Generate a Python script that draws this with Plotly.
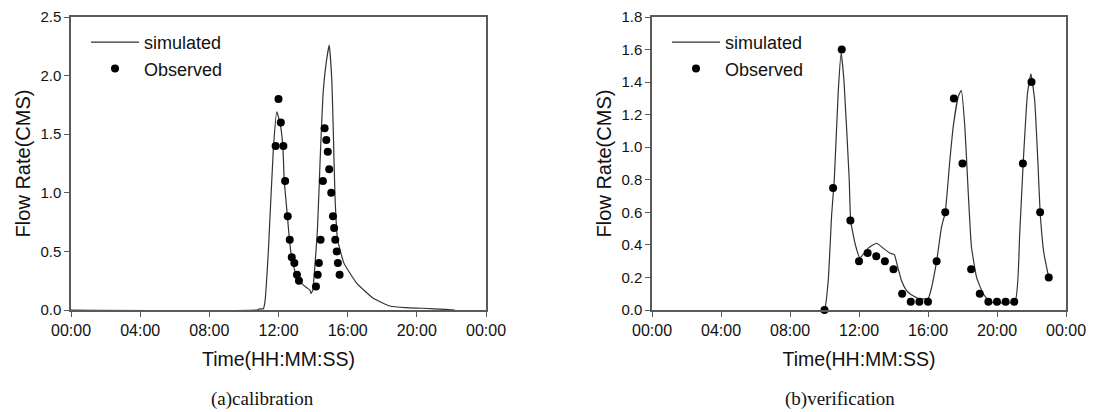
import plotly.graph_objects as go

DAY = "2000-01-01 "

# ---- (a) calibration ----
cal_sim_time = ["00:00", "10:45", "10:55", "11:07", "11:13", "11:25", "11:42", "11:54", "12:05",
                "12:15", "12:20", "12:31", "12:38", "12:46", "13:03", "13:14", "13:38", "13:49",
                "13:53", "13:59", "14:07", "14:15", "14:24", "14:34", "14:45", "14:56", "15:05",
                "15:10", "15:16", "15:25", "15:47", "16:31", "17:29", "18:27", "19:20", "20:22",
                "21:38", "22:12"]
cal_sim_flow = [0.0, 0.0, 0.01, 0.01, 0.07, 0.51, 1.37, 1.69, 1.60,
                1.40, 1.10, 0.80, 0.60, 0.44, 0.28, 0.24, 0.19, 0.17,
                0.14, 0.17, 0.40, 0.68, 1.25, 1.82, 2.10, 2.26, 1.96,
                1.54, 0.97, 0.60, 0.40, 0.23, 0.10, 0.034, 0.02, 0.015,
                0.005, 0.0]

cal_obs_time = ["11:50", "12:00", "12:08", "12:17", "12:23", "12:32", "12:39", "12:46", "12:55",
                "13:04", "13:11", "14:10", "14:16", "14:20", "14:26", "14:34", "14:40", "14:46",
                "14:51", "14:56", "15:03", "15:09", "15:13", "15:17", "15:22", "15:26", "15:32"]
cal_obs_flow = [1.40, 1.80, 1.60, 1.40, 1.10, 0.80, 0.60, 0.45, 0.40,
                0.30, 0.25, 0.20, 0.30, 0.40, 0.60, 1.10, 1.55, 1.45,
                1.35, 1.20, 1.00, 0.80, 0.70, 0.60, 0.50, 0.40, 0.30]

# ---- (b) verification ----
ver_sim_time = ["09:50", "10:00", "10:13", "10:25", "10:34", "10:48", "10:58", "11:08", "11:26",
                "11:31", "11:46", "12:03", "12:32", "13:01", "13:24", "13:47", "14:03", "14:11",
                "14:28", "14:45", "14:57", "15:26", "16:00", "16:10", "16:30", "16:47", "17:00",
                "17:16", "17:28", "17:45", "17:56", "18:08", "18:20", "18:31", "18:49", "19:12",
                "19:36", "21:02", "21:19", "21:31", "21:46", "21:58", "22:11", "22:23", "22:30",
                "22:43", "23:00"]
ver_sim_flow = [0.0, 0.0, 0.18, 0.59, 0.80, 1.35, 1.58, 1.40, 0.80,
                0.55, 0.41, 0.32, 0.38, 0.41, 0.38, 0.35, 0.34, 0.29,
                0.18, 0.12, 0.10, 0.07, 0.07, 0.12, 0.30, 0.51, 0.60,
                0.92, 1.13, 1.31, 1.35, 1.13, 0.72, 0.39, 0.20, 0.10,
                0.05, 0.05, 0.47, 0.90, 1.33, 1.45, 1.29, 0.88, 0.60,
                0.35, 0.20]

ver_obs_time = ["10:00", "10:30", "11:00", "11:30", "12:00", "12:30", "13:00", "13:30", "14:00",
                "14:30", "15:00", "15:30", "16:00", "16:30", "17:00", "17:30", "18:00", "18:30",
                "19:00", "19:30", "20:00", "20:30", "21:00", "21:30", "22:00", "22:30", "23:00"]
ver_obs_flow = [0.0, 0.75, 1.60, 0.55, 0.30, 0.35, 0.33, 0.30, 0.25,
                0.10, 0.05, 0.05, 0.05, 0.30, 0.60, 1.30, 0.90, 0.25,
                0.10, 0.05, 0.05, 0.05, 0.05, 0.90, 1.40, 0.60, 0.20]

captions = ["(a)calibration", "(b)verification"]

panels = [
    ("x", "y", "legend", cal_sim_time, cal_sim_flow, cal_obs_time, cal_obs_flow),
    ("x2", "y2", "legend2", ver_sim_time, ver_sim_flow, ver_obs_time, ver_obs_flow),
]

FONT = "Liberation Sans, Arial, sans-serif"
SERIF = "Liberation Serif, Times New Roman, serif"
LINE_COLOR = "#333333"
FRAME = "#5a5a5a"

# page has an 8px body margin, so size the figure to what is left of the window
W, H, PAD = 1092, 404, 8


def px(x):
    return (x - PAD) / W


def py(y):
    return 1 - (y - PAD) / H


fig = go.Figure()

for xa, ya, lg, st, sv, ot, ov in panels:
    fig.add_trace(go.Scatter(
        x=[DAY + t for t in st], y=sv,
        mode="lines", name="simulated",
        line=dict(color=LINE_COLOR, width=1.2, shape="spline", smoothing=0.4),
        xaxis=xa, yaxis=ya, legend=lg,
    ))
    fig.add_trace(go.Scatter(
        x=[DAY + t for t in ot], y=ov,
        mode="markers", name="Observed",
        marker=dict(color="black", size=8),
        cliponaxis=False,
        xaxis=xa, yaxis=ya, legend=lg,
    ))

xcommon = dict(
    type="date", range=["2000-01-01 00:00", "2000-01-02 00:00"],
    dtick=4 * 3600 * 1000, tick0="2000-01-01 00:00", tickformat="%H:%M",
    showline=True, mirror=True, linecolor=FRAME, linewidth=1.5,
    ticks="outside", ticklen=5, tickcolor=FRAME,
    showgrid=False, zeroline=False, automargin=False,
    tickfont=dict(size=16, color="#111"),
    title=dict(text="Time(HH:MM:SS)", font=dict(size=19.5, color="#111"), standoff=14),
)
ycommon = dict(
    showline=True, mirror=True, linecolor=FRAME, linewidth=1.5,
    ticks="outside", ticklen=5, tickcolor=FRAME,
    showgrid=False, zeroline=False, tickformat=".1f", automargin=False,
    tickfont=dict(size=15, color="#111"),
    title=dict(text="Flow Rate(CMS)", font=dict(size=20, color="#111"), standoff=4),
)

legend_common = dict(
    xanchor="left", yanchor="top", bgcolor="rgba(0,0,0,0)",
    font=dict(size=18, family=FONT, color="#111"), itemwidth=48, tracegroupgap=0,
)

fig.update_layout(
    width=W, height=H,
    margin=dict(l=0, r=0, t=0, b=0),
    plot_bgcolor="white", paper_bgcolor="white",
    font=dict(family=FONT),
    xaxis=dict(xcommon, domain=[px(71), px(486)], anchor="y"),
    yaxis=dict(ycommon, domain=[py(310), py(17)], anchor="x", range=[0, 2.5], dtick=0.5),
    xaxis2=dict(xcommon, domain=[px(652), px(1066)], anchor="y2"),
    yaxis2=dict(ycommon, domain=[py(310), py(17)], anchor="x2", range=[0, 1.8], dtick=0.2),
    legend=dict(legend_common, x=px(86), y=py(24)),
    legend2=dict(legend_common, x=px(667), y=py(24)),
    annotations=[
        dict(text=captions[0], x=px(262), y=py(399), xref="paper", yref="paper",
             xanchor="center", yanchor="middle", showarrow=False,
             font=dict(family=SERIF, size=19, color="#111")),
        dict(text=captions[1], x=px(840), y=py(399), xref="paper", yref="paper",
             xanchor="center", yanchor="middle", showarrow=False,
             font=dict(family=SERIF, size=19, color="#111")),
    ],
)

fig.write_html("out.html")
